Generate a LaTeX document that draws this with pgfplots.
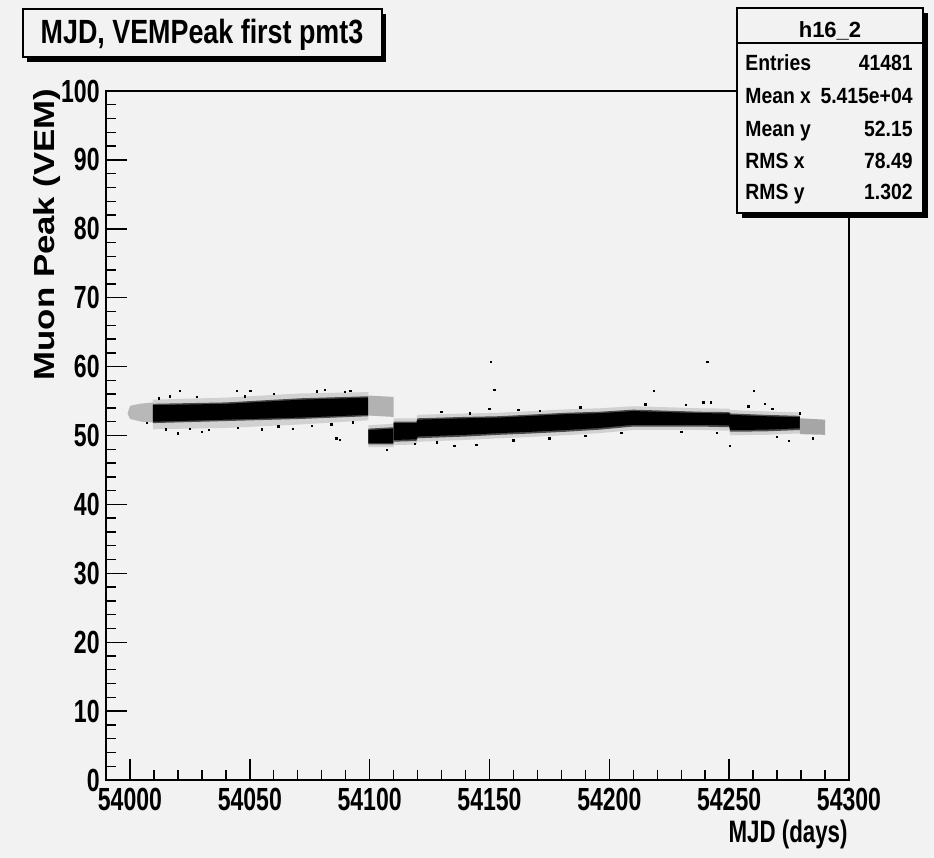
\documentclass[border=0pt]{standalone}
\usepackage{fontspec}
\setmainfont{Liberation Sans}
\newfontfamily\rootA{Liberation Sans}[FakeStretch=0.72]
\newfontfamily\rootB{Liberation Sans}[FakeStretch=0.8]
\newfontfamily\rootC{Liberation Sans}[FakeStretch=0.88]
\newfontfamily\rootD{Liberation Sans}[FakeStretch=1.2]
\usepackage{pgfplots}
\pgfplotsset{compat=1.18}
\definecolor{rootbg}{RGB}{242,242,242}
\newcommand\ticfont{\rootA\bfseries\fontsize{16pt}{16pt}\selectfont}
\newcommand\statfont{\rootC\bfseries\fontsize{11pt}{11pt}\selectfont}

\begin{document}
\begin{tikzpicture}
% background, coordinates in pixels of the reference
\begin{scope}[x=0.5pt,y=-0.5pt,shift={(-106,-91)}]
  \fill[rootbg] (0,0) rectangle (934,858);
\end{scope}

\begin{axis}[
    at={(0,0)}, anchor=north west,
    width=371.5pt, height=344.5pt, scale only axis,
    xmin=53990, xmax=54300, ymin=0, ymax=100,
    scaled x ticks=false, scaled y ticks=false,
    axis line style={black, line width=0.8pt},
    tick style={black, line width=0.7pt},
    major tick length=10.5pt, minor tick length=5.25pt,
    tick align=inside, tick pos=left,
    xtick={54000,54050,54100,54150,54200,54250,54300},
    xticklabels={54000,54050,54100,54150,54200,54250,54300},
    minor x tick num=4,
    ytick={0,10,20,30,40,50,60,70,80,90,100},
    yticklabels={0,10,20,30,40,50,60,70,80,90,100},
    minor y tick num=4,
    xticklabel style={font=\ticfont, anchor=north, inner sep=0pt, yshift=-4pt},
    yticklabel style={font=\ticfont, anchor=east, inner sep=0pt, xshift=-3pt},
  ]

  % ---- first period, sparse start
  \addplot[fill=black!28, draw=none, forget plot] coordinates {
    (53999,53.2) (54000,54.3) (54004,54.6) (54009.6,54.8)
    (54009.6,51.9) (54005,52.0) (54000,52.4)} -- cycle;
  % ---- first period, band
  \addplot[fill=black!18, draw=none, forget plot] coordinates {
    (54009.6,55.2) (54040,55.5) (54071,56.1) (54099.5,56.3)
    (54099.5,52.2) (54071,51.6) (54040,51.1) (54009.6,50.9)} -- cycle;
  \addplot[fill=black!70, draw=none, forget plot] coordinates {
    (54009.6,54.6) (54040,54.8) (54071,55.4) (54099.5,55.7)
    (54099.5,52.8) (54071,52.4) (54040,52.1) (54009.6,51.8)} -- cycle;
  \addplot[fill=black, draw=none, forget plot] coordinates {
    (54009.6,54.4) (54040,54.6) (54071,55.2) (54099.5,55.5)
    (54099.5,53.0) (54071,52.6) (54040,52.3) (54009.6,52.0)} -- cycle;
  % ---- overlap 54100-54110, upper remnant
  \addplot[fill=black!30, draw=none, forget plot] coordinates {
    (54099.5,55.8) (54110,55.6) (54110,52.7) (54099.5,52.9)} -- cycle;
  % ---- overlap 54100-54110, lower band
  \addplot[fill=black!18, draw=none, forget plot] coordinates {
    (54099.5,51.5) (54110,51.7) (54110,48.3) (54099.5,48.3)} -- cycle;
  \addplot[fill=black!70, draw=none, forget plot] coordinates {
    (54099.5,51.0) (54110,51.2) (54110,48.7) (54099.5,48.7)} -- cycle;
  \addplot[fill=black, draw=none, forget plot] coordinates {
    (54099.5,50.8) (54110,51.0) (54110,48.9) (54099.5,48.9)} -- cycle;
  % ---- second period, band
  \addplot[fill=black!18, draw=none, forget plot] coordinates {
    (54110,52.5) (54119.5,52.5) (54120,53.0) (54140,53.2) (54154,53.3)
    (54168,53.55) (54182,53.8) (54196,53.95) (54210,54.25) (54224,54.1)
    (54238,53.95) (54250,53.9) (54250.5,53.7) (54265,53.5) (54279.5,53.35)
    (54279.5,50.3) (54265,50.1) (54250.5,50.05) (54250,50.7) (54238,50.8)
    (54224,50.8) (54210,50.8) (54196,50.35) (54182,50.05) (54168,49.8)
    (54154,49.6) (54140,49.35) (54120,49.1) (54119.5,48.7) (54110,48.6)} -- cycle;
  \addplot[fill=black!70, draw=none, forget plot] coordinates {
    (54110,52.0) (54119.5,52.0) (54120,52.5) (54140,52.7) (54154,52.8)
    (54168,53.05) (54182,53.3) (54196,53.45) (54210,53.75) (54224,53.6)
    (54238,53.45) (54250,53.4) (54250.5,53.2) (54265,53.0) (54279.5,52.85)
    (54279.5,50.8) (54265,50.6) (54250.5,50.55) (54250,51.2) (54238,51.3)
    (54224,51.3) (54210,51.3) (54196,50.85) (54182,50.55) (54168,50.3)
    (54154,50.1) (54140,49.85) (54120,49.6) (54119.5,49.2) (54110,49.1)} -- cycle;
  \addplot[fill=black, draw=none, forget plot] coordinates {
    (54110,51.8) (54119.5,51.8) (54120,52.3) (54140,52.5) (54154,52.6)
    (54168,52.85) (54182,53.1) (54196,53.25) (54210,53.55) (54224,53.4)
    (54238,53.25) (54250,53.2) (54250.5,53.0) (54265,52.8) (54279.5,52.65)
    (54279.5,51.05) (54265,50.85) (54250.5,50.8) (54250,51.45) (54238,51.55)
    (54224,51.55) (54210,51.55) (54196,51.1) (54182,50.8) (54168,50.55)
    (54154,50.35) (54140,50.1) (54120,49.85) (54119.5,49.45) (54110,49.35)} -- cycle;
  % ---- sparse tail
  \addplot[fill=black!35, draw=none, forget plot] coordinates {
    (54279.5,52.5) (54290,52.3) (54290,50.1) (54279.5,50.2)} -- cycle;

  % ---- isolated entries
  \addplot[only marks, mark=square*, mark size=0.35pt, black, forget plot] coordinates {
    (54016.7,55.7) (54020.9,56.5) (54044.5,56.5) (54050.3,56.5) (54019.9,50.3)
    (54029.9,50.5) (54086.2,49.6) (54087.6,49.4) (54107.1,47.9) (54081.4,56.6)
    (54089.7,56.3) (54007,51.8) (54152,56.6) (54149.9,53.9) (54218.7,56.5)
    (54239.2,54.8) (54242.3,54.8) (54260.3,56.5) (54264.9,54.6) (54258,54.2)
    (54250.3,48.5) (54275,49.2) (54135.3,48.5) (54144.6,48.6) (54141.8,53.2)
    (54171,53.6) (54279.5,53.2) (54118.9,48.8) (54150.6,60.7) (54241,60.7)
    (54015,50.9) (54025,51.0) (54033,50.8) (54045,51.1) (54055,50.9)
    (54062,51.3) (54068,51.0) (54076,51.4) (54084,51.6) (54093,51.9)
    (54012,55.4) (54028,55.6) (54048,55.7) (54060,56.0) (54078,56.4)
    (54092,56.5) (54128,49.0) (54160,49.3) (54175,49.6) (54190,49.9)
    (54205,50.4) (54230,50.5) (54245,50.4) (54270,49.8) (54285,49.6)
    (54130,53.4) (54162,53.7) (54188,54.1) (54215,54.5) (54232,54.4)
    (54268,53.9)};
\end{axis}

% overlays, coordinates in pixels of the reference
\begin{scope}[x=0.5pt,y=-0.5pt,shift={(-106,-91)}]
  % title box
  \fill[black] (27.5,13.5) rectangle (386.5,61.5);
  \filldraw[fill=rootbg, draw=black, line width=0.6pt] (23,9) rectangle (382,57);
  \node[anchor=base, inner sep=0pt, font=\rootB\bfseries\fontsize{16.8pt}{16.8pt}\selectfont]
    at (202,43) {MJD, VEMPeak first pmt3};
  % axis titles
  \node[anchor=base east, inner sep=0pt, rotate=90,
        font=\rootD\bfseries\fontsize{14.5pt}{14.5pt}\selectfont]
    at (55,88) {Muon Peak (VEM)};
  \node[anchor=base east, inner sep=0pt,
        font=\rootA\bfseries\fontsize{15.5pt}{15.5pt}\selectfont]
    at (848,842) {MJD (days)};
  % statistics box
  \fill[black] (742,13) rectangle (928,218);
  \filldraw[fill=rootbg, draw=black, line width=0.6pt] (737,8) rectangle (923,213);
  \draw[black, line width=0.6pt] (737,43) -- (923,43);
  \node[anchor=base, inner sep=0pt, font=\bfseries\fontsize{11pt}{11pt}\selectfont]
    at (830,37) {h16\_2};
  \foreach \lab/\val/\yy in {Entries/41481/70.5, Mean x/5.415e+04/103,
      Mean y/52.15/136, RMS x/78.49/168, RMS y/1.302/199} {
    \node[anchor=base west, inner sep=0pt, font=\statfont] at (745,\yy) {\lab};
    \node[anchor=base east, inner sep=0pt, font=\statfont] at (913,\yy) {\val};
  }
\end{scope}
\end{tikzpicture}
\end{document}
